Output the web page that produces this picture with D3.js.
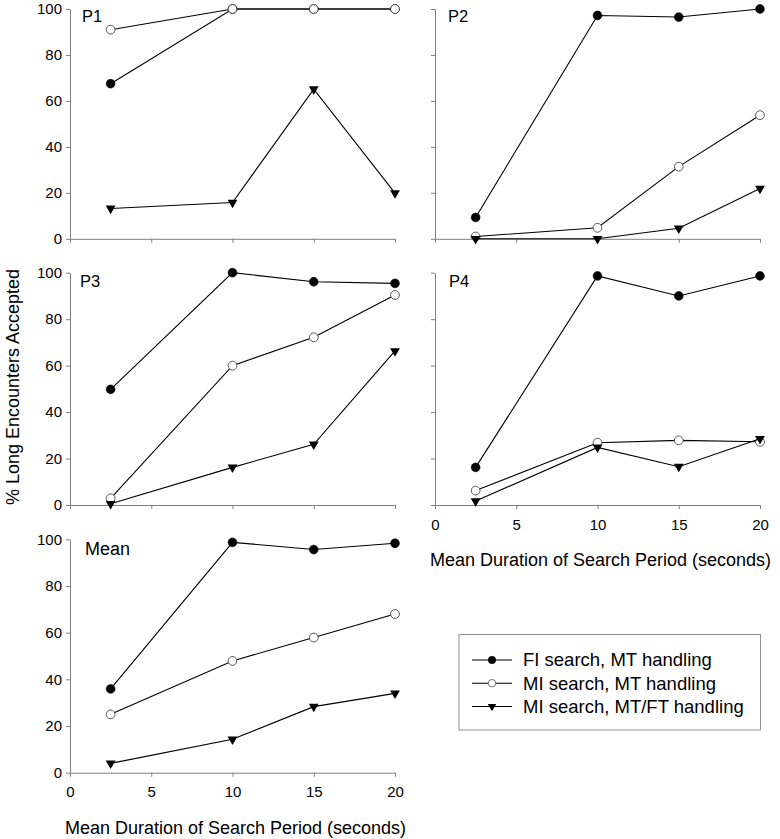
<!DOCTYPE html>
<html lang="en">
  <head>
    <meta charset="UTF-8" />
    <title>Long encounters accepted</title>
    <script src="https://d3js.org/d3.v7.min.js"></script>
    <style>
      body { margin: 0; background: #fff; }
      text { font-family: "Liberation Sans", Arial, sans-serif; fill: #000; }
      .axis path, .axis line { stroke: #808080; stroke-width: 1; }
      .axis text { font-size: 15px; }
      .series { stroke: #000; stroke-width: 1.1; fill: none; }
    </style>
  </head>
  <body>
    <svg id="canvas" width="780" height="839"></svg>
    <script>
      // data
      const durations = [2.5, 10, 15, 20];
      const seriesNames = ["FI search, MT handling", "MI search, MT handling", "MI search, MT/FT handling"];
      const xTicks = [0, 5, 10, 15, 20];
      const yTicks = [0, 20, 40, 60, 80, 100];

      const p1 = [[67.5, 100, 100, 100], [91, 100, 100, 100], [13.2, 15.8, 65.1, 19.9]];
      const p2 = [[9.3, 97.2, 96.5, 100], [1, 4.8, 31.4, 53.8], [0, 0, 4.6, 21.9]];
      const p3 = [[49.8, 100, 96.1, 95.4], [2.9, 60, 72.2, 90.4], [0.5, 16.2, 26.1, 66.3]];
      const p4 = [[16.2, 98.6, 90, 98.6], [6.2, 26.8, 27.8, 27.2], [1.7, 24.8, 16.5, 28.5]];
      const mean = [[35.9, 98.7, 95.6, 98.3], [25, 47.9, 57.9, 68], [4, 14.3, 28.3, 34]];

      const svg = d3.select("#canvas");

      // panel layout
      const panels = [
        { name: "P1", data: p1, x0: 70, x1: 395, top: 9, bottom: 238.8, yLabels: true, xLabels: false, lx: 82, ly: 22, fs: 16.5 },
        { name: "P2", data: p2, x0: 435, x1: 760, top: 9, bottom: 238.8, yLabels: false, xLabels: false, lx: 448, ly: 22, fs: 16.5 },
        { name: "P3", data: p3, x0: 70, x1: 395, top: 272.7, bottom: 505, yLabels: true, xLabels: false, lx: 80, ly: 287, fs: 16.5 },
        { name: "P4", data: p4, x0: 435, x1: 760, top: 272.7, bottom: 505, yLabels: false, xLabels: true, lx: 449, ly: 287, fs: 16.5 },
        { name: "Mean", data: mean, x0: 70, x1: 395, top: 539.3, bottom: 772.7, yLabels: true, xLabels: true, lx: 85, ly: 555, fs: 18 },
      ];

      function drawMarker(sel, k) {
        if (k === 0) {
          sel.append("circle").attr("r", 4.4).attr("fill", "#000").attr("stroke", "#000").attr("stroke-width", 0.6);
        } else if (k === 1) {
          sel.append("circle").attr("r", 4.4).attr("fill", "#fff").attr("stroke", "#333").attr("stroke-width", 0.8);
        } else {
          sel.append("path")
            .attr("d", d3.symbol().type(d3.symbolTriangle).size(42)())
            .attr("transform", "rotate(180)")
            .attr("fill", "#000");
        }
      }

      panels.forEach((p) => {
        const x = d3.scaleLinear().domain([0, 20]).range([p.x0, p.x1]);
        const y = d3.scaleLinear().domain([0, 100]).range([p.bottom, p.top]);
        const g = svg.append("g");

        g.append("g")
          .attr("class", "axis")
          .attr("transform", `translate(${p.x0},0)`)
          .call(d3.axisLeft(y).tickValues(yTicks).tickSize(4).tickSizeOuter(0).tickPadding(4)
            .tickFormat(p.yLabels ? d3.format("d") : () => ""));

        g.append("g")
          .attr("class", "axis")
          .attr("transform", `translate(0,${p.bottom})`)
          .call(d3.axisBottom(x).tickValues(xTicks).tickSize(4).tickSizeOuter(0).tickPadding(10)
            .tickFormat(p.xLabels ? d3.format("d") : () => ""));

        g.append("text")
          .attr("x", p.lx)
          .attr("y", p.ly)
          .attr("font-size", p.fs)
          .text(p.name);

        const line = d3.line().x((d, i) => x(durations[i])).y((d) => y(d));

        p.data.forEach((vals, k) => {
          g.append("path").attr("class", "series").attr("d", line(vals));
          g.selectAll(null)
            .data(vals)
            .enter()
            .append("g")
            .attr("transform", (d, i) => `translate(${x(durations[i])},${y(d)})`)
            .each(function () { drawMarker(d3.select(this), k); });
        });

        if (p.xLabels) {
          g.append("text")
            .attr("x", (p.x0 + p.x1) / 2 + 3)
            .attr("y", p.bottom + 61)
            .attr("text-anchor", "middle")
            .attr("font-size", 18)
            .text("Mean Duration of Search Period (seconds)");
        }
      });

      // y axis title
      svg.append("text")
        .attr("transform", "translate(19,387) rotate(-90)")
        .attr("text-anchor", "middle")
        .attr("font-size", 18)
        .text("% Long Encounters Accepted");

      // legend
      const legend = svg.append("g");
      legend.append("rect")
        .attr("x", 459).attr("y", 634.5)
        .attr("width", 301.5).attr("height", 95.5)
        .attr("fill", "#fff").attr("stroke", "#909090").attr("stroke-width", 1);

      const rowY = d3.scalePoint().domain(seriesNames).range([660, 706.5]);
      seriesNames.forEach((name, k) => {
        const row = legend.append("g").attr("transform", `translate(0,${rowY(name)})`);
        row.append("line").attr("x1", 472).attr("x2", 512).attr("y1", 0).attr("y2", 0)
          .attr("stroke", "#000").attr("stroke-width", 1.1);
        const m = row.append("g").attr("transform", "translate(492,0) scale(0.85)");
        drawMarker(m, k);
        row.append("text")
          .attr("x", 523)
          .attr("y", 0)
          .attr("dy", "0.35em")
          .attr("font-size", 18.5)
          .text(name);
      });
    </script>
  </body>
</html>
